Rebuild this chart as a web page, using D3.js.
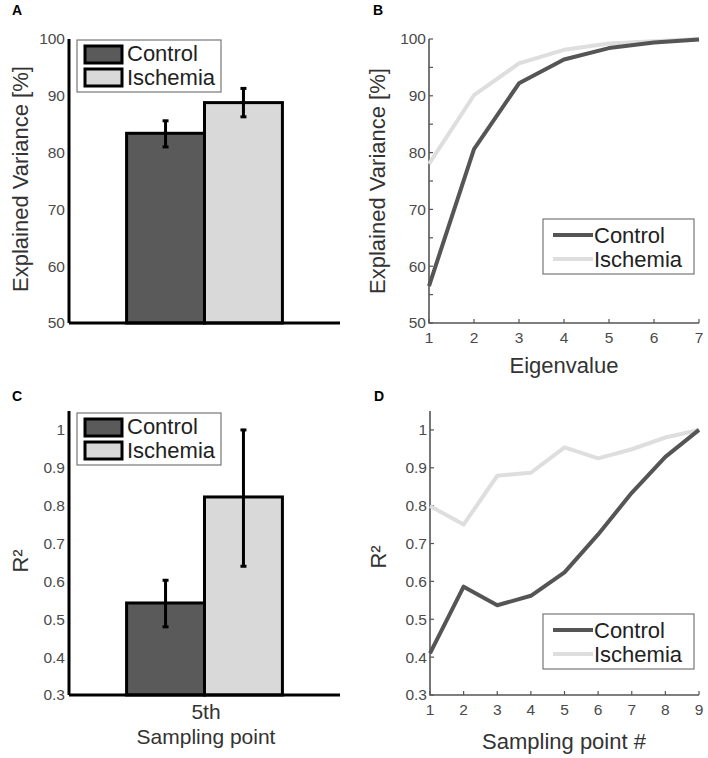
<!DOCTYPE html>
<html>
<head>
<meta charset="utf-8">
<script src="https://cdn.jsdelivr.net/npm/d3@7"></script>
<style>
body { margin: 0; background: #fff; }
text { font-family: "Liberation Sans", Arial, sans-serif; }
</style>
</head>
<body>
<div class="container"></div>
<script>
// data
var groups = ["Control", "Ischemia"];
var groupFill = ["#5a5a5a", "#d9d9d9"];
var lineColor = ["#555555", "#dedede"];

// A: explained variance of first eigenvalue (mean, error range)
var varMean = [83.4, 88.8];
var varLow = [81.0, 86.3];
var varHigh = [85.6, 91.3];

// B: cumulative explained variance
var eigen = [1, 2, 3, 4, 5, 6, 7];
var cumControl = [56.5, 80.6, 92.2, 96.4, 98.4, 99.4, 99.9];
var cumIschemia = [78.0, 90.1, 95.7, 98.1, 99.2, 99.6, 100];

// C: R2 at 5th sampling point
var r2Mean = [0.543, 0.823];
var r2Low = [0.48, 0.64];
var r2High = [0.603, 1.0];

// D: R2 per sampling point
var samples = [1, 2, 3, 4, 5, 6, 7, 8, 9];
var r2Control = [0.41, 0.586, 0.537, 0.562, 0.624, 0.724, 0.834, 0.929, 1.0];
var r2Ischemia = [0.799, 0.75, 0.879, 0.887, 0.954, 0.925, 0.949, 0.98, 1.0];

var varTicks = [50, 60, 70, 80, 90, 100];
var varMinor = [55, 65, 75, 85, 95];
var r2Ticks = [0.3, 0.4, 0.5, 0.6, 0.7, 0.8, 0.9, 1];

var svg = d3.select(".container").insert("svg")
	.attr("width", 708)
	.attr("height", 758);

function fmtR2(d) { return d === 1 ? "1" : d.toFixed(1); }

function panelLetter(x, y, t) {
	svg.append("text").attr("x", x).attr("y", y)
		.style("font-weight", "bold").style("font-size", "14px").text(t);
}

function yLabel(x, y, t) {
	svg.append("text")
		.attr("transform", "translate(" + x + "," + y + ") rotate(-90)")
		.attr("text-anchor", "middle")
		.style("font-size", "22px").style("fill", "#333").text(t);
}

function tickLabelsY(g, y, ticks, fmt, xpos) {
	g.selectAll(".yl").data(ticks).enter().append("text")
		.attr("class", "yl")
		.attr("x", xpos).attr("y", function(d) { return y(d); })
		.attr("dy", "0.35em").attr("text-anchor", "end")
		.style("font-size", "15.5px").style("fill", "#4a4a4a")
		.text(fmt);
}

// bar panel (A and C)
function barPanel(y, ticks, fmt, mean, low, high, legTop) {
	var g = svg.append("g");
	var x = d3.scaleLinear().domain([0, 2]).range([69, 340]);
	var bw = 0.575;
	tickLabelsY(g, y, ticks, fmt, 65);

	g.selectAll(".bar").data(mean).enter().append("rect")
		.attr("x", function(d, i) { return x(1 - bw + i * bw); })
		.attr("width", x(bw) - x(0))
		.attr("y", function(d) { return y(d); })
		.attr("height", function(d) { return y.range()[0] - y(d); })
		.style("fill", function(d, i) { return groupFill[i]; })
		.style("stroke", "#000").style("stroke-width", 3);

	// error bars
	g.selectAll(".err").data(mean).enter().append("line")
		.attr("x1", function(d, i) { return x(1 - bw / 2 + i * bw); })
		.attr("x2", function(d, i) { return x(1 - bw / 2 + i * bw); })
		.attr("y1", function(d, i) { return y(low[i]); })
		.attr("y2", function(d, i) { return y(high[i]); })
		.style("stroke", "#000").style("stroke-width", 3);
	[low, high].forEach(function(arr) {
		g.selectAll(null).data(arr).enter().append("line")
			.attr("x1", function(d, i) { return x(1 - bw / 2 + i * bw) - 3; })
			.attr("x2", function(d, i) { return x(1 - bw / 2 + i * bw) + 3; })
			.attr("y1", function(d) { return y(d); })
			.attr("y2", function(d) { return y(d); })
			.style("stroke", "#000").style("stroke-width", 3);
	});

	// axes lines
	g.append("line").attr("x1", x(0)).attr("x2", x(0))
		.attr("y1", y.range()[0]).attr("y2", y.range()[1])
		.style("stroke", "#000").style("stroke-width", 3);
	g.append("line").attr("x1", x(0)).attr("x2", x(2))
		.attr("y1", y.range()[0]).attr("y2", y.range()[0])
		.style("stroke", "#000").style("stroke-width", 3);

	// legend
	var leg = g.append("g").attr("transform", "translate(77," + legTop + ")");
	leg.append("rect").attr("width", 144).attr("height", 52)
		.style("fill", "#fff").style("stroke", "#777").style("stroke-width", 1.2);
	groups.forEach(function(name, i) {
		leg.append("rect").attr("x", 8).attr("y", 6 + i * 23).attr("width", 37).attr("height", 17)
			.style("fill", groupFill[i]).style("stroke", "#000").style("stroke-width", 3);
		leg.append("text").attr("x", 50).attr("y", 21 + i * 24)
			.style("font-size", "22px").style("fill", "#222").text(name);
	});
	return g;
}

// line panel (B and D)
function linePanel(xs, x, y, ticks, minor, fmt, series, legTop) {
	var g = svg.append("g");
	var y0 = y.range()[0];
	var axisCol = "#555";

	tickLabelsY(g, y, ticks, fmt, x.range()[0] - 3);
	g.selectAll(".xl").data(xs).enter().append("text")
		.attr("x", function(d) { return x(d); }).attr("y", y0 + 20)
		.attr("text-anchor", "middle")
		.style("font-size", "15.5px").style("fill", "#4a4a4a").text(function(d) { return d; });

	// inside ticks
	g.selectAll(".ty").data(ticks.concat(minor)).enter().append("line")
		.attr("x1", x.range()[0]).attr("x2", x.range()[0] + 4)
		.attr("y1", function(d) { return y(d); }).attr("y2", function(d) { return y(d); })
		.style("stroke", axisCol).style("stroke-width", 1.2);
	g.selectAll(".tx").data(xs).enter().append("line")
		.attr("x1", function(d) { return x(d); }).attr("x2", function(d) { return x(d); })
		.attr("y1", y0).attr("y2", y0 - 4)
		.style("stroke", axisCol).style("stroke-width", 1.2);

	g.append("path")
		.attr("d", "M" + x.range()[0] + "," + y.range()[1] + "V" + y0 + "H" + x.range()[1])
		.style("fill", "none").style("stroke", axisCol).style("stroke-width", 1.6);

	var line = d3.line().x(function(d, i) { return x(xs[i]); }).y(function(d) { return y(d); });
	// ischemia drawn first, control on top
	[1, 0].forEach(function(i) {
		g.append("path").datum(series[i]).attr("d", line)
			.style("fill", "none").style("stroke", lineColor[i]).style("stroke-width", 4)
			.style("stroke-linejoin", "round");
	});

	var leg = g.append("g").attr("transform", "translate(543," + legTop + ")");
	leg.append("rect").attr("width", 151).attr("height", 55)
		.style("fill", "#fff").style("stroke", "#777").style("stroke-width", 1.2);
	groups.forEach(function(name, i) {
		leg.append("line").attr("x1", 10).attr("x2", 50)
			.attr("y1", 16 + i * 24).attr("y2", 16 + i * 24)
			.style("stroke", lineColor[i]).style("stroke-width", 4);
		leg.append("text").attr("x", 51).attr("y", 24 + i * 24)
			.style("font-size", "22px").style("fill", "#222").text(name);
	});
}

// A
var yA = d3.scaleLinear().domain([50, 100]).range([323, 39]);
barPanel(yA, varTicks, function(d) { return d; }, varMean, varLow, varHigh, 40);
panelLetter(12, 15, "A");
yLabel(28, 179, "Explained Variance [%]");

// B
var xB = d3.scaleLinear().domain([1, 7]).range([429, 699]);
linePanel(eigen, xB, yA, varTicks, varMinor, function(d) { return d; }, [cumControl, cumIschemia], 219);
panelLetter(373, 15, "B");
yLabel(385, 181, "Explained Variance [%]");
svg.append("text").attr("x", 564).attr("y", 373).attr("text-anchor", "middle")
	.style("font-size", "22px").style("fill", "#333").text("Eigenvalue");

// C
var yC = d3.scaleLinear().domain([0.3, 1.05]).range([695, 411]);
barPanel(yC, r2Ticks, fmtR2, r2Mean, r2Low, r2High, 413);
panelLetter(12, 401, "C");
yLabel(28, 561, "R²");
svg.append("text").attr("x", 206).attr("y", 719).attr("text-anchor", "middle")
	.style("font-size", "21px").style("fill", "#333").text("5th");
svg.append("text").attr("x", 206).attr("y", 744).attr("text-anchor", "middle")
	.style("font-size", "21px").style("fill", "#333").text("Sampling point");

// D
var xD = d3.scaleLinear().domain([1, 9]).range([430, 699]);
linePanel(samples, xD, yC, r2Ticks, [], fmtR2, [r2Control, r2Ischemia], 614);
panelLetter(374, 401, "D");
yLabel(386, 557, "R²");
svg.append("text").attr("x", 564).attr("y", 749).attr("text-anchor", "middle")
	.style("font-size", "22px").style("fill", "#333").text("Sampling point #");
</script>
</body>
</html>
